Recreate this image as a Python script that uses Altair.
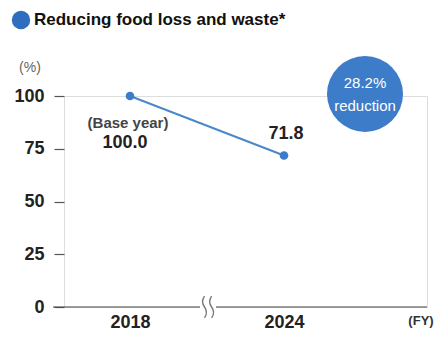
import altair as alt
import pandas as pd

years = ["2018", "2024"]
values = [100.0, 71.8]
value_labels = ["100.0", "71.8"]
y_ticks = [0, 25, 50, 75, 100]
title_text = "Reducing food loss and waste*"
badge_lines = ["28.2%", "reduction"]

BLUE = "#3d7cc9"
LINE = "#4a88cc"
DARK = "#222222"
FONT = "Liberation Sans"

W, H = 363, 211

df = pd.DataFrame({"year": years, "value": values, "label": value_labels})

x = alt.X("year:O", scale=alt.Scale(type="point", domain=years, range=[66, 220], padding=0),
          axis=alt.Axis(title=None, ticks=False, domain=False, labelAngle=0,
                        labelFont=FONT, labelFontSize=18, labelFontWeight="bold",
                        labelColor=DARK, labelPadding=6, grid=False))
y = alt.Y("value:Q", scale=alt.Scale(domain=[0, 100], nice=False, zero=True),
          axis=alt.Axis(title=None, values=y_ticks, tickSize=10, tickColor="#555",
                        tickWidth=1.2, domain=False, grid=False, labelFont=FONT,
                        labelFontSize=18, labelFontWeight="bold", labelColor=DARK,
                        labelPadding=10))

one = pd.DataFrame({"a": [0]})
base = alt.Chart(df)

baseline = alt.Chart(one).mark_rule(color="#444", strokeWidth=1.2).encode(
    x=alt.value(-11), x2=alt.value(W), y=alt.value(H))
gap = alt.Chart(one).mark_rect(color="white").encode(
    x=alt.value(136), x2=alt.value(152), y=alt.value(H - 12), y2=alt.value(H + 12))
brk = alt.Chart(one).mark_point(
    shape="M-0.5,-1 Q-0.85,-0.5 -0.5,0 Q-0.15,0.5 -0.5,1 M0.15,-1 Q-0.2,-0.5 0.15,0 Q0.5,0.5 0.15,1",
    size=480, stroke="#777", strokeWidth=1.4, filled=False, opacity=1).encode(
    x=alt.value(146), y=alt.value(H))

line = base.mark_line(color=LINE, strokeWidth=2).encode(x=x, y=y)
pts = base.mark_point(filled=True, color=BLUE, size=75, opacity=1).encode(x=x, y=y)

lab_base = base.transform_filter(alt.datum.year == years[0])
lab_last = base.transform_filter(alt.datum.year == years[1])
base_year = lab_base.mark_text(text="(Base year)", font=FONT, fontSize=15, fontWeight="bold",
                               color="#444", dx=-2, dy=27).encode(x=x, y=y)
base_val = lab_base.mark_text(font=FONT, fontSize=18, fontWeight="bold", color=DARK,
                              dx=-5, dy=47).encode(x=x, y=y, text="label:N")
last_val = lab_last.mark_text(font=FONT, fontSize=18, fontWeight="bold", color=DARK,
                              dx=2, dy=-22).encode(x=x, y=y, text="label:N")

badge = alt.Chart(one).mark_point(
    shape="circle", filled=True, color=BLUE, size=5776, opacity=1).encode(
    x=alt.value(301), y=alt.value(-2))
badge_t1 = alt.Chart(one).mark_text(
    text=badge_lines[0], font=FONT, fontSize=15, color="white", baseline="middle").encode(
    x=alt.value(301), y=alt.value(-13))
badge_t2 = alt.Chart(one).mark_text(
    text=badge_lines[1], font=FONT, fontSize=15, color="white", baseline="middle").encode(
    x=alt.value(301), y=alt.value(10))

pct = alt.Chart(one).mark_text(
    text="(%)", font=FONT, fontSize=14, color="#666", baseline="middle").encode(
    x=alt.value(-34), y=alt.value(-28))
fy = alt.Chart(one).mark_text(
    text="(FY)", font=FONT, fontSize=13, fontWeight="bold", color="#333", baseline="middle").encode(
    x=alt.value(357), y=alt.value(H + 14))

bullet = alt.Chart(one).mark_point(
    shape="circle", filled=True, color="#2f6dc0", size=340, opacity=1).encode(
    x=alt.value(-43), y=alt.value(-76))
title = alt.Chart(one).mark_text(
    text=title_text, font=FONT, fontSize=17, fontWeight="bold", color="#111",
    align="left", baseline="middle").encode(x=alt.value(-30), y=alt.value(-76))

chart = alt.layer(baseline, gap, brk, line, pts, base_year, base_val, last_val,
                  badge, badge_t1, badge_t2, pct, fy, bullet, title).properties(
    width=W, height=H,
    autosize=alt.AutoSizeParams(type="none"),
    padding={"left": 64, "top": 96, "right": 10, "bottom": 31},
).configure_view(stroke=None).configure(background="white")

chart.save("out.html", embed_options={"renderer": "svg", "actions": False})
